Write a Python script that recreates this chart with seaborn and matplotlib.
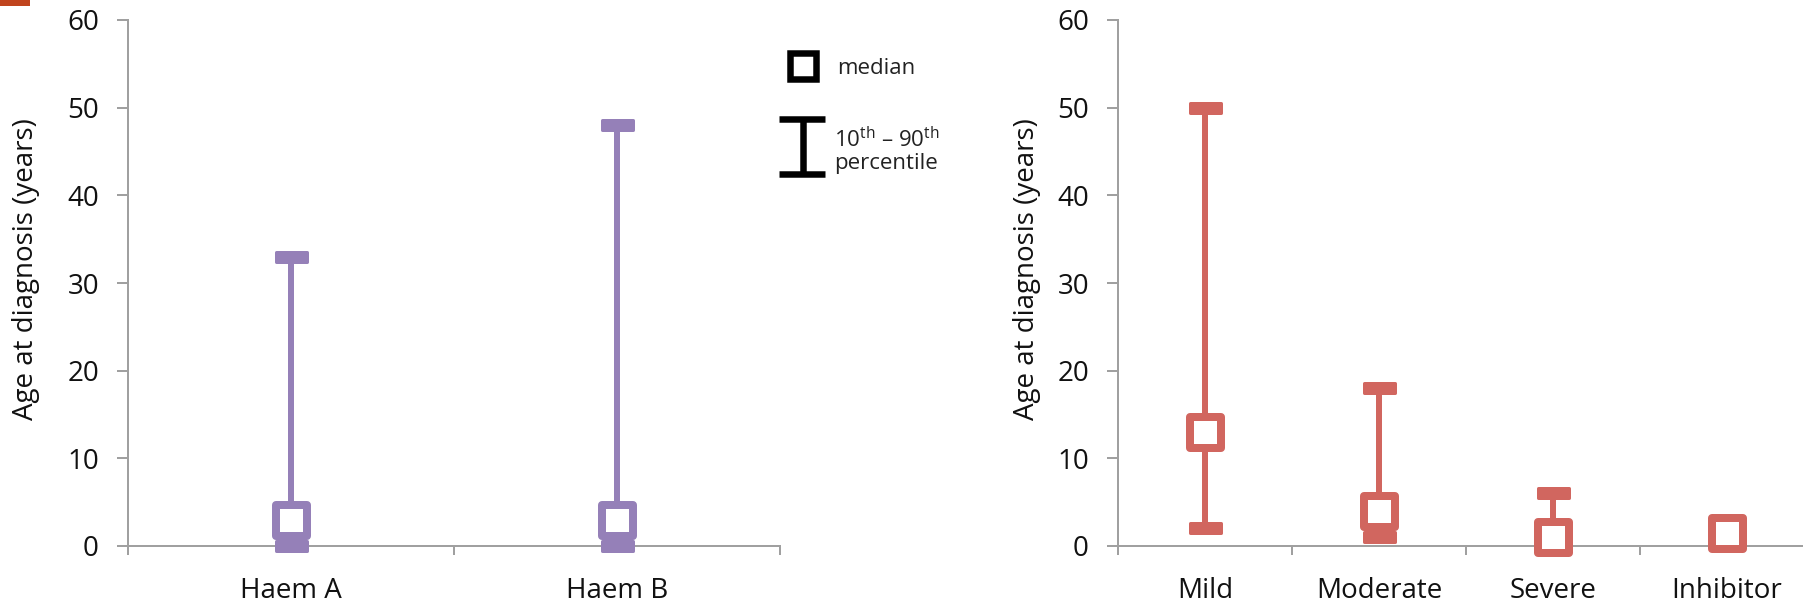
import numpy as np
import pandas as pd
import matplotlib
matplotlib.use("Agg")
import matplotlib.pyplot as plt
from matplotlib.markers import MarkerStyle
from matplotlib.path import Path
from matplotlib.lines import Line2D
from matplotlib.patches import Rectangle
import seaborn as sns

# ---------------- data ----------------
type_cats = ["Haem A", "Haem B"]
type_median = [3, 3]
type_p10 = [0, 0]
type_p90 = [33, 48]

sev_cats = ["Mild", "Moderate", "Severe", "Inhibitor"]
sev_median = [13, 4, 1, 1.5]
sev_p10 = [2, 1, 0, 1]
sev_p90 = [50, 18, 6, 2]

y_ticks = [0, 10, 20, 30, 40, 50, 60]
y_label = "Age at diagnosis (years)"

PURPLE = "#9580B8"
RED = "#D1665F"
GREY = "#A0A0A0"
TXT = "#111111"

sns.set_theme(style="white")
plt.rcParams["font.family"] = ["Open Sans", "DejaVu Sans"]
plt.rcParams["mathtext.fontset"] = "custom"
plt.rcParams["mathtext.rm"] = "Open Sans"
plt.rcParams["mathtext.it"] = "Open Sans"
plt.rcParams["text.color"] = TXT

W, H = 1803, 601
DPI = 100
PT = 72 / DPI  # points per pixel

fig = plt.figure(figsize=(W / DPI, H / DPI), dpi=DPI)
fig.patch.set_facecolor("white")

ax1 = fig.add_axes([128 / W, 1 - 546 / H, 652 / W, 526 / H])
ax2 = fig.add_axes([1118 / W, 1 - 546 / H, 696 / W, 526 / H])

# cap marker: rectangle shape
cap_verts = [(-1, -0.3), (1, -0.3), (1, 0.3), (-1, 0.3), (-1, -0.3)]
cap_marker = MarkerStyle(Path(cap_verts, closed=True), joinstyle="round")
med_marker = MarkerStyle("s", joinstyle="round")
MED_MS = 31 * PT
MED_MEW = 8 * PT


def draw_panel(ax, cats, med, lo, hi, color, label_x):
    df = pd.DataFrame({"cat": cats, "median": med})
    sns.pointplot(data=df, x="cat", y="median", ax=ax, color=color,
                  linestyle="none", marker="s", errorbar=None,
                  markersize=MED_MS, markeredgewidth=MED_MEW,
                  markerfacecolor="white", markeredgecolor=color, zorder=4)
    for ln in ax.lines:
        ln.set_marker(med_marker)
        ln.set_markerfacecolor("white")
        ln.set_markeredgecolor(color)
        ln.set_markersize(MED_MS)
        ln.set_markeredgewidth(MED_MEW)
        ln.set_zorder(4)
        ln.set_clip_on(False)
    idx = np.arange(len(cats))
    ax.vlines(idx, lo, hi, color=color, lw=6 * PT, zorder=2)
    for vals in (lo, hi):
        ax.plot(idx, vals, linestyle="none", marker=cap_marker,
                markersize=31 * PT, color=color, markeredgecolor=color,
                markeredgewidth=3 * PT, zorder=3, clip_on=False)

    n = len(cats)
    ax.set_xlim(-0.5, n - 0.5)
    ax.set_ylim(0, 60)
    ax.set_yticks(y_ticks)
    ax.set_yticklabels([str(t) for t in y_ticks])
    ax.set_xticks(np.arange(-0.5, n, 1.0))
    ax.set_xticklabels([])
    ax.set_xticks(idx, labels=cats, minor=True)
    ax.tick_params(axis="x", which="major", length=9 * PT, width=2 * PT,
                   color=GREY, direction="out", bottom=True)
    ax.tick_params(axis="x", which="minor", length=0, pad=22,
                   labelsize=20, labelcolor=TXT, bottom=True)
    ax.tick_params(axis="y", which="major", length=11 * PT, width=2 * PT,
                   color=GREY, direction="out", pad=13, labelsize=20,
                   labelcolor=TXT, left=True)
    for side in ("top", "right"):
        ax.spines[side].set_visible(False)
    for side in ("left", "bottom"):
        ax.spines[side].set_color(GREY)
        ax.spines[side].set_linewidth(2 * PT)
    ax.set_xlabel("")
    ax.set_ylabel(y_label, fontsize=20, color=TXT)
    ax.yaxis.set_label_coords(label_x, 0.527)
    ax.grid(False)
    ax.patch.set_alpha(0)


draw_panel(ax1, type_cats, type_median, type_p10, type_p90, PURPLE, -0.135)
draw_panel(ax2, sev_cats, sev_median, sev_p10, sev_p90, RED, -0.111)


def fx(x):
    return x / W


def fy(y):
    return 1 - y / H


# legend (figure coordinates)
fig.add_artist(Line2D([fx(802.5)], [fy(66)], marker="s", markersize=26 * PT,
                      markeredgewidth=6.5 * PT, markerfacecolor="white",
                      markeredgecolor="black", linestyle="none"))
fig.text(fx(837), fy(74), "median", fontsize=16, va="baseline", ha="left",
         color="#222222")
lw_leg = 6.5 * PT
fig.add_artist(Line2D([fx(803), fx(803)], [fy(118), fy(174)], color="black",
                      lw=lw_leg, solid_capstyle="butt"))
fig.add_artist(Line2D([fx(779), fx(825)], [fy(118.5), fy(118.5)],
                      color="black", lw=lw_leg, solid_capstyle="butt"))
fig.add_artist(Line2D([fx(779), fx(825)], [fy(174), fy(174)],
                      color="black", lw=lw_leg, solid_capstyle="butt"))
fig.text(fx(834), fy(147), r"10$^{\mathrm{th}}$ – 90$^{\mathrm{th}}$",
         fontsize=16, va="baseline", ha="left", color="#222222")
fig.text(fx(834), fy(169), "percentile", fontsize=16, va="baseline",
         ha="left", color="#222222")

# small orange-red mark at the top-left corner
fig.add_artist(Rectangle((0, fy(6)), fx(30), 6 / H, color="#C0441E",
                         transform=fig.transFigure, lw=0))

fig.savefig("out.png", dpi=DPI, facecolor="white")
